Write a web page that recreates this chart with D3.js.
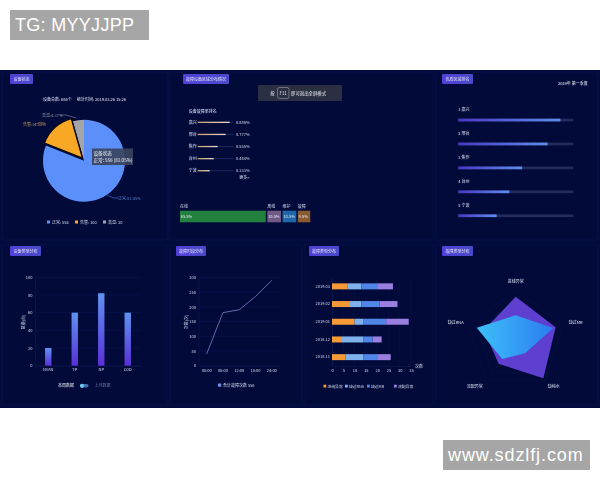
<!DOCTYPE html>
<html>
<head>
<meta charset="utf-8">
<script src="https://cdn.jsdelivr.net/npm/d3@7"></script>
<style>
html, body { margin: 0; background: #fff; }
svg { display: block; }
text { font-family: "Noto Sans CJK SC", "Noto Sans", sans-serif; }
.blur { filter: blur(0.4px); }
</style>
</head>
<body>
<svg id="chart" width="600" height="480"></svg>
<script>
// pie
const pieLabels = ["正常", "告警", "高温"];
const pieValues = [556, 100, 30];
const pieColors = ["#5b8ff9", "#f9a825", "#a3a5a8"];
// ranking (middle panel + right panel)
const cities = ["嘉兴", "邢台", "焦作", "台州", "宁波"];
const rates = [0.888, 0.777, 0.555, 0.444, 0.333];
// status strip
const statusLabels = ["在线", "离线", "维护", "故障"];
const statusValues = [65.5, 10.5, 10.5, 9.5];
const statusColors = ["#23803f", "#6f5a86", "#1f67a8", "#8a5a30"];
// device type bars
const typeCats = ["NVAN", "TP", "NP", "COD"];
const typeValues = [20, 60, 82, 60];
const typeTicks = [0, 20, 40, 60, 80, 100];
// fault time line
const timeCats = ["00:00", "06:00", "12:00", "18:00", "24:00"];
const timeValues = [40, 180, 190, 235, 290];
const timeTicks = [0, 50, 100, 150, 200, 250, 300];
// stacked bars
const months = ["2019.03", "2019.02", "2019.01", "2018.12", "2018.11"];
const stackKeys = ["进线异常", "缺过RNA", "缺过MR", "流配异常"];
const stackColors = ["#f59a36", "#7fb2ec", "#4f86e8", "#9a7fe0"];
const stackA = [7, 8, 10, 4, 6];
const stackB = [6, 5, 4, 10, 8];
const stackC = [7, 8, 10, 4, 6];
const stackD = [7, 8, 10, 4, 6];
const stackTicks = [0, 5, 10, 15, 20, 25, 30, 35];
// radar
const radarAxes = ["进线异常", "缺过MR", "缺纯水", "流配异常", "缺过RNA"];
const radarPurple = [87, 84, 94, 58, 67];
const radarBlue = [50, 79, 32, 46, 82];

const svg = d3.select("#chart");
const defs = svg.append("defs");

function vGrad(id, top, bottom) {
	const g = defs.append("linearGradient").attr("id", id)
		.attr("x1", 0).attr("y1", 0).attr("x2", 0).attr("y2", 1);
	g.append("stop").attr("offset", 0).attr("stop-color", top);
	g.append("stop").attr("offset", 1).attr("stop-color", bottom);
}
function hGrad(id, left, right) {
	const g = defs.append("linearGradient").attr("id", id)
		.attr("x1", 0).attr("y1", 0).attr("x2", 1).attr("y2", 0);
	g.append("stop").attr("offset", 0).attr("stop-color", left);
	g.append("stop").attr("offset", 1).attr("stop-color", right);
}
vGrad("barGrad", "#5f93f0", "#5a2fd8");
hGrad("progGrad", "#4b36c8", "#5b8ff0");
hGrad("rankGrad", "#c8a070", "#e8d8c8");
hGrad("badgeGrad", "#5040d8", "#4a4ac8");
hGrad("radarGrad", "#3cc0f8", "#2c7cf0");

// watermark boxes
function stamp(x, y, w, h, txt, spacing) {
	svg.append("rect").attr("x", x).attr("y", y).attr("width", w).attr("height", h).attr("fill", "#a6a6a6");
	svg.append("text").attr("x", x + 5).attr("y", y + h / 2 + 6).attr("fill", "#fff")
		.style("font-family", "'Liberation Sans', sans-serif").style("font-size", "18px")
		.style("letter-spacing", spacing + "px").text(txt);
}
stamp(10, 10, 139, 30, "TG: MYYJJPP", 0.3);
stamp(443, 440, 147, 30, "www.sdzlfj.com", 0.9);

const root = svg.append("g").attr("class", "blur");
root.append("rect").attr("x", 0).attr("y", 70).attr("width", 600).attr("height", 338).attr("fill", "#020b3c");

function label(g, x, y, txt, size, fill, anchor) {
	return g.append("text").attr("x", x).attr("y", y).attr("fill", fill || "#d8dcf0")
		.attr("text-anchor", anchor || "start").style("font-size", (size || 4) + "px").text(txt);
}

// panels
const panels = [
	[2, 72, 166, 168, 10, 74, 23, "设备状态"],
	[170, 72, 263, 168, 183, 74, 46, "故障设备区域分布情况"],
	[436, 72, 162, 168, 442, 74, 31, "优质区域排名"],
	[2, 245, 165, 160, 10, 246, 31, "设备类型分布"],
	[170, 245, 132, 160, 176, 246, 30, "故障时段分布"],
	[305, 245, 128, 160, 309, 246, 30, "故障类型分布"],
	[436, 245, 162, 160, 442, 246, 31, "故障类型分布"]
];
panels.forEach(function(p) {
	root.append("rect").attr("x", p[0]).attr("y", p[1]).attr("width", p[2]).attr("height", p[3])
		.attr("fill", "#020a3a").attr("stroke", "#071148").attr("stroke-width", 1);
	root.append("rect").attr("x", p[4]).attr("y", p[5]).attr("width", p[6]).attr("height", 10)
		.attr("rx", 1).attr("fill", "url(#badgeGrad)");
	label(root, p[4] + p[6] / 2, p[5] + 6.6, p[7], 4, "#e4e6fa", "middle");
});

// ---- pie
const pieG = root.append("g");
label(pieG, 43, 101, "设备总数: 686个", 4, "#e4e6fa");
label(pieG, 77, 101, "统计时间: 2019.03.26 15:26", 4, "#e4e6fa");
const pieCenter = [84, 160.7];
const pie = d3.pie().sort(null);
const arcs = pie(pieValues);
const arc = d3.arc().innerRadius(0).outerRadius(41);
const pieSlices = pieG.append("g").attr("transform", "translate(" + pieCenter + ")");
pieSlices.selectAll("path").data(arcs).enter().append("path")
	.attr("d", arc)
	.attr("fill", function(d, i) { return pieColors[i]; })
	.attr("transform", function(d, i) { return i === 1 ? "translate(-1.5,-2.5)" : null; })
	.attr("stroke", function(d, i) { return i === 1 ? "#0a0a14" : "none"; })
	.attr("stroke-width", 1.3);
// raise orange so its outline sits on top
pieSlices.selectAll("path").filter(function(d, i) { return i === 1; }).raise();

pieG.append("path").attr("d", "M107 195 L114 198 L118 198").attr("fill", "none").attr("stroke", "#5b8ff9").attr("stroke-width", 0.5);
label(pieG, 118, 200, "正常:81.05%", 4, "#5b7fc8");
pieG.append("path").attr("d", "M46 124 L41 122 L36 124").attr("fill", "none").attr("stroke", "#c89a50").attr("stroke-width", 0.5);
label(pieG, 23, 125.5, "告警:14.58%", 4, "#c89a60");
pieG.append("path").attr("d", "M76 118 L66 115 L60 115").attr("fill", "none").attr("stroke", "#a3a5a8").attr("stroke-width", 0.5);
label(pieG, 42, 116.5, "高温:4.37%", 4, "#8f93a0");

// tooltip
pieG.append("rect").attr("x", 92).attr("y", 148.5).attr("width", 41).attr("height", 16.5).attr("fill", "#39445f").attr("opacity", 0.92);
label(pieG, 93.5, 155, "设备状态", 4.6, "#f0f2fa");
label(pieG, 93.5, 162, "正常: 556 (81.05%)", 4.6, "#f0f2fa");

// legend
const pieLegendX = [47, 75, 103];
pieLabels.forEach(function(n, i) {
	pieG.append("rect").attr("x", pieLegendX[i]).attr("y", 220.5).attr("width", 3).attr("height", 3).attr("fill", pieColors[i]);
	label(pieG, pieLegendX[i] + 5, 224, n + ": " + pieValues[i], 4, "#d8dcf0");
});

// ---- fault ranking
const rankG = root.append("g");
label(rankG, 188.7, 112.5, "设备故障率排名", 4, "#e4e6fa");
const rankY = d3.scalePoint().domain(cities).range([122.3, 170.7]);
const rankX = d3.scaleLinear().domain([0, 1]).range([197.7, 233.7]);
cities.forEach(function(c, i) {
	const y = rankY(c);
	label(rankG, 188.7, y + 1.5, c, 4, "#e4e6fa");
	rankG.append("rect").attr("x", rankX(0)).attr("y", y - 0.5).attr("width", rankX(1) - rankX(0)).attr("height", 1).attr("fill", "#1a2a5a");
	rankG.append("rect").attr("x", rankX(0)).attr("y", y - 0.6).attr("width", rankX(rates[i]) - rankX(0)).attr("height", 1.3).attr("fill", "url(#rankGrad)");
	label(rankG, 236, y + 1.5, rates[i].toFixed(3) + "%", 4, "#d8dcf0");
});
label(rankG, 249.5, 179, "更多>", 4, "#e4e6fa", "end");

// notice
root.append("rect").attr("x", 258).attr("y", 85).attr("width", 84).attr("height", 16).attr("rx", 1).attr("fill", "#2a2f42");
root.append("rect").attr("x", 277.5).attr("y", 87.5).attr("width", 11.5).attr("height", 11).attr("rx", 2).attr("fill", "none").attr("stroke", "#9aa0b0").attr("stroke-width", 0.6);
label(root, 272.5, 95, "按", 4.4, "#e8e8ee", "middle");
label(root, 283.2, 95, "F11", 4.4, "#e8e8ee", "middle");
label(root, 291, 95, "即可退出全屏模式", 4.4, "#e8e8ee");

// ---- status strip
const statusX = d3.scaleLinear().domain([0, 100]).range([0, 131]);
let statusCursor = 180;
statusValues.forEach(function(v, i) {
	const w = statusX(v);
	root.append("rect").attr("x", statusCursor).attr("y", 210.7).attr("width", w).attr("height", 11.6).attr("fill", statusColors[i]);
	label(root, statusCursor, 207.5, statusLabels[i], 4, "#d8dcf0");
	label(root, statusCursor + 0.8, 218, v.toFixed(1) + "%", 4, "#e8ecf8");
	statusCursor += w + 1.5;
});

// ---- progress list
const progG = root.append("g");
label(progG, 587.7, 85, "2019年 第一季度", 4, "#f0f2fa", "end");
const progRowY = d3.scalePoint().domain(cities).range([120, 215.7]);
const progX = d3.scaleLinear().domain([0, 1]).range([458.3, 573.3]);
cities.forEach(function(c, i) {
	const y = progRowY(c);
	label(progG, 458.3, y - 9.2, (i + 1) + "  " + c, 4, "#e4e6fa");
	progG.append("rect").attr("x", progX(0)).attr("y", y - 1.3).attr("width", progX(1) - progX(0)).attr("height", 2.7).attr("fill", "#232c5c");
	progG.append("rect").attr("x", progX(0)).attr("y", y - 1.3).attr("width", progX(rates[i]) - progX(0)).attr("height", 2.7).attr("fill", "url(#progGrad)");
});

// axis helper, keeps d3-axis output but restyles it
function styleAxis(g, size) {
	g.select(".domain").attr("stroke", "#141f58").attr("stroke-width", 0.5);
	g.selectAll(".tick line").remove();
	g.selectAll("text").attr("fill", "#d8dcf0").style("font-size", (size || 4) + "px");
}
function hGrid(g, scale, ticks, x0, x1) {
	g.append("g").selectAll("line").data(ticks).enter().append("line")
		.attr("x1", x0).attr("x2", x1)
		.attr("y1", function(d) { return scale(d); }).attr("y2", function(d) { return scale(d); })
		.attr("stroke", "#0d1850").attr("stroke-width", 0.5);
}

// ---- device type bars
const barG = root.append("g");
const barX = d3.scaleBand().domain(typeCats).range([35, 141]);
const barY = d3.scaleLinear().domain([0, 100]).range([365.7, 277.3]);
hGrid(barG, barY, typeTicks, 35, 141);
barG.append("g").attr("transform", "translate(0,365.7)").call(d3.axisBottom(barX).tickSize(0).tickPadding(2.5)).call(styleAxis);
barG.append("g").attr("transform", "translate(35,0)").call(d3.axisLeft(barY).tickValues(typeTicks).tickSize(0).tickPadding(2.5)).call(styleAxis);
barG.selectAll(".bar").data(typeValues).enter().append("rect").attr("class", "bar")
	.attr("x", function(d, i) { return barX(typeCats[i]) + barX.bandwidth() / 2 - 3.2; })
	.attr("y", function(d) { return barY(d); })
	.attr("width", 6.4)
	.attr("height", function(d) { return barY(0) - barY(d); })
	.attr("fill", "url(#barGrad)");
label(barG, 0, 0, "数量(台)", 4, "#d8dcf0", "middle").attr("transform", "translate(25,322) rotate(-90)");
label(barG, 66, 386.6, "本周数据", 4, "#f0f2fa", "middle");
barG.append("rect").attr("x", 80).attr("y", 384).attr("width", 8.5).attr("height", 3.6).attr("rx", 1.8).attr("fill", "#3f6fb0");
barG.append("circle").attr("cx", 82).attr("cy", 385.8).attr("r", 2.1).attr("fill", "#6fc4e8");
label(barG, 102.5, 386.6, "上月数据", 4, "#6a78a8", "middle");

// ---- fault time line
const lineG = root.append("g");
const lineX = d3.scaleBand().domain(timeCats).range([198.5, 280]);
const lineY = d3.scaleLinear().domain([0, 300]).range([365.7, 277.3]);
hGrid(lineG, lineY, timeTicks, 198.5, 280);
lineG.append("g").attr("transform", "translate(0,365.7)").call(d3.axisBottom(lineX).tickSize(0).tickPadding(3)).call(styleAxis);
lineG.append("g").attr("transform", "translate(198.5,0)").call(d3.axisLeft(lineY).tickValues(timeTicks).tickSize(0).tickPadding(2.5)).call(styleAxis);
const linePath = d3.line()
	.x(function(d, i) { return lineX(timeCats[i]) + lineX.bandwidth() / 2; })
	.y(function(d) { return lineY(d); });
lineG.append("path").datum(timeValues).attr("d", linePath).attr("fill", "none").attr("stroke", "#8e90d8").attr("stroke-width", 0.7);
label(lineG, 0, 0, "次数(次)", 4, "#d8dcf0", "middle").attr("transform", "translate(188,322) rotate(-90)");
lineG.append("rect").attr("x", 218).attr("y", 383.5).attr("width", 3.2).attr("height", 3.2).attr("fill", "#6d8fe8");
label(lineG, 223, 386.8, "合计故障次数 556", 4, "#d8dcf0");

// ---- stacked bars
const stackG = root.append("g");
const stackX = d3.scaleLinear().domain([0, 35]).range([332, 411]);
const stackY = d3.scaleBand().domain(months).range([277.5, 366]);
const stackRows = months.map(function(m, i) {
	return { month: m, [stackKeys[0]]: stackA[i], [stackKeys[1]]: stackB[i], [stackKeys[2]]: stackC[i], [stackKeys[3]]: stackD[i] };
});
const stacked = d3.stack().keys(stackKeys)(stackRows);
stackG.append("g").selectAll("line").data(stackTicks).enter().append("line")
	.attr("x1", function(d) { return stackX(d); }).attr("x2", function(d) { return stackX(d); })
	.attr("y1", 277).attr("y2", 366).attr("stroke", "#0a1448").attr("stroke-width", 0.5);
stackG.append("g").attr("transform", "translate(0,366)").call(d3.axisBottom(stackX).tickValues(stackTicks).tickSize(0).tickPadding(3)).call(styleAxis);
stackG.append("g").attr("transform", "translate(332,0)").call(d3.axisLeft(stackY).tickSize(0).tickPadding(2)).call(styleAxis);
stacked.forEach(function(layer, k) {
	stackG.append("g").selectAll("rect").data(layer).enter().append("rect")
		.attr("x", function(d) { return stackX(d[0]); })
		.attr("y", function(d) { return stackY(d.data.month) + stackY.bandwidth() / 2 - 3; })
		.attr("width", function(d) { return stackX(d[1]) - stackX(d[0]); })
		.attr("height", 6)
		.attr("fill", stackColors[k]);
});
label(stackG, 415, 367.5, "次数", 4, "#d8dcf0");
const stackLegendX = [323.5, 345, 367, 394];
stackKeys.forEach(function(n, i) {
	stackG.append("rect").attr("x", stackLegendX[i]).attr("y", 384.7).attr("width", 2.8).attr("height", 2.8).attr("fill", stackColors[i]);
	label(stackG, stackLegendX[i] + 4, 387.8, n, 3.8, "#d8dcf0");
});

// ---- radar
const radarG = root.append("g").attr("transform", "translate(515.7,340.3)");
const radarR = d3.scaleLinear().domain([0, 100]).range([0, 50]);
const radarA = d3.scalePoint().domain(radarAxes).range([0, 2 * Math.PI * 4 / 5]);
const radarLine = d3.lineRadial()
	.angle(function(d, i) { return radarA(radarAxes[i]); })
	.radius(function(d) { return radarR(d); })
	.curve(d3.curveLinearClosed);
[20, 40, 60, 80, 100].forEach(function(v) {
	radarG.append("path").attr("d", radarLine(radarAxes.map(function() { return v; })))
		.attr("fill", "none").attr("stroke", "#0a1448").attr("stroke-width", 0.5);
});
radarG.append("path").datum(radarPurple).attr("d", radarLine).attr("fill", "#5f3fd0");
radarG.append("path").datum(radarBlue).attr("d", radarLine).attr("fill", "url(#radarGrad)");
// label spots, they do not sit on a circle
const radarLabelDx = [0, 60, 38, -41, -60];
const radarLabelDy = [-57, -16, 47.5, 47.5, -16];
radarAxes.forEach(function(n, i) {
	label(radarG, radarLabelDx[i], radarLabelDy[i], n, 4, "#e4e6fa", "middle");
});
</script>
</body>
</html>
